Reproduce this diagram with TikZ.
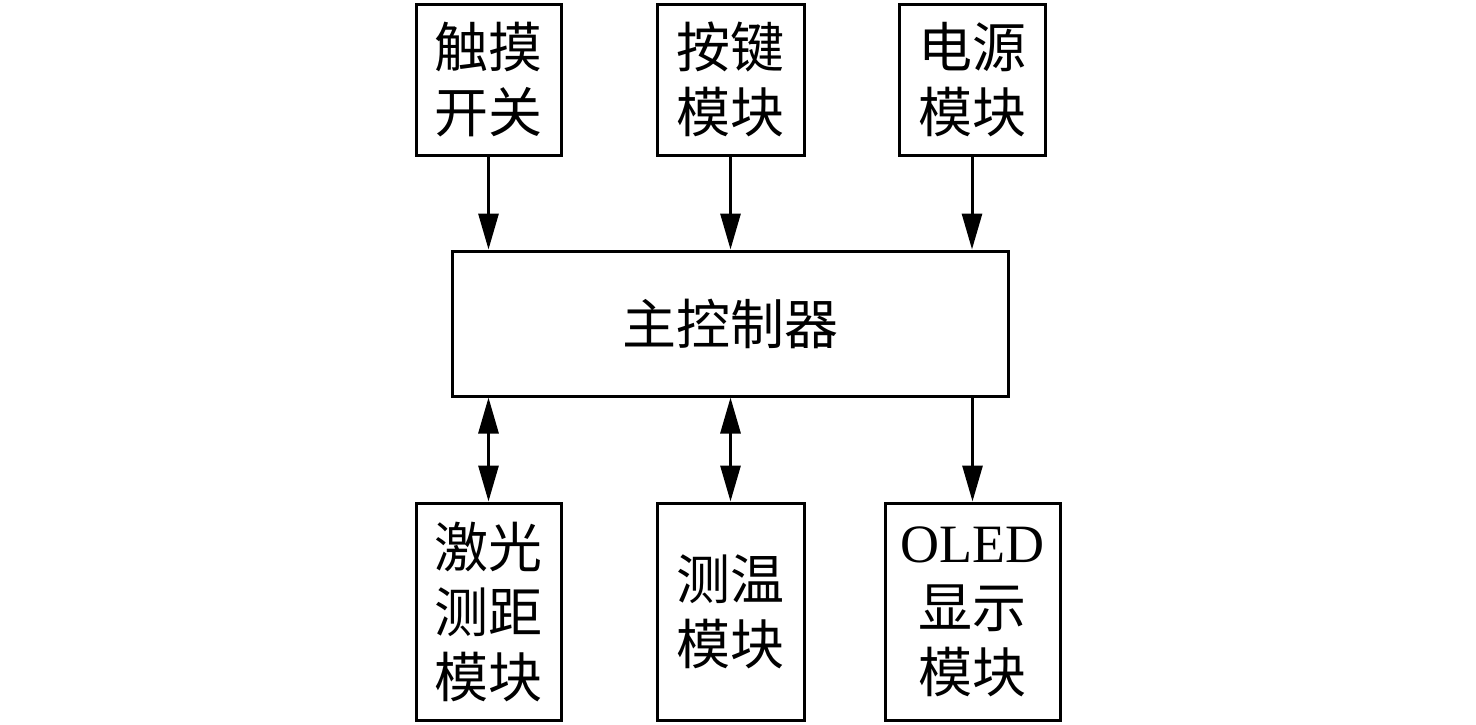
\documentclass[tikz,border=0pt]{standalone}
\usepackage{fontspec}
\setmainfont{Liberation Serif}
\newfontfamily\cjk{Noto Sans CJK SC}
\usetikzlibrary{arrows.meta}
\begin{document}
\begin{tikzpicture}[x=0.5pt,y=-0.5pt,
  box/.style={draw, line width=1.5pt, inner sep=0pt, align=center,
    font=\cjk\fontsize{27}{32.5}\selectfont},
  arr/.style={line width=1.5pt, -{Triangle[length=18pt,width=10pt]}},
  darr/.style={line width=1.5pt, {Triangle[length=18pt,width=10pt]}-{Triangle[length=18pt,width=10pt]}}]
\useasboundingbox (0,0) rectangle (1476,724);
\node[box, minimum width=72.5pt, minimum height=75.5pt] (touch) at (488.5,79.5) {触摸\\开关};
\node[box, minimum width=73.5pt, minimum height=75.5pt] (key) at (730.5,79.5) {按键\\模块};
\node[box, minimum width=73pt, minimum height=75.5pt] (power) at (972,79.5) {电源\\模块};
\node[box, minimum width=278pt, minimum height=72.5pt] (main) at (730,323.5) {主控制器};
\node[box, minimum width=72.5pt, minimum height=108.5pt] (laser) at (488.5,611.5) {激光\\测距\\模块};
\node[box, minimum width=73.5pt, minimum height=108.5pt] (temp) at (730.5,611.5) {测温\\模块};
\node[box, minimum width=87.5pt, minimum height=108.5pt] (oled) at (972.5,611.5) {{\rmfamily OLED}\\显示\\模块};
\draw[arr] (touch.south) -- (touch.south |- main.north);
\draw[arr] (key.south) -- (key.south |- main.north);
\draw[arr] (power.south) -- (power.south |- main.north);
\draw[darr] (laser.north |- main.south) -- (laser.north);
\draw[darr] (temp.north |- main.south) -- (temp.north);
\draw[arr] (oled.north |- main.south) -- (oled.north);
\end{tikzpicture}
\end{document}
